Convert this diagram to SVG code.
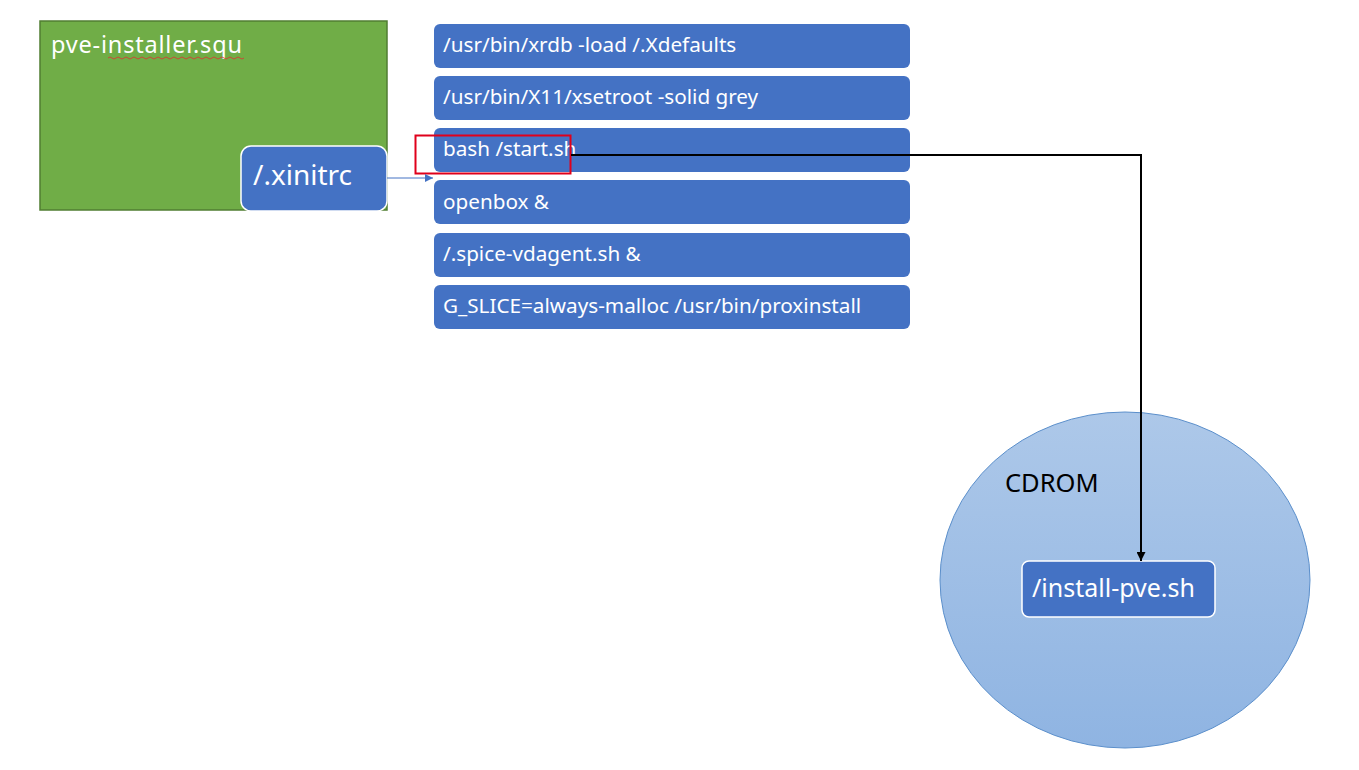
<svg xmlns="http://www.w3.org/2000/svg" width="1359" height="770" viewBox="0 0 1359 770">
<style>
.bar{fill:#4472c4;}
.bt{font-family:"Noto Sans","Liberation Sans",sans-serif;font-size:20.7px;fill:#ffffff;}
.wt{font-family:"Noto Sans","Liberation Sans",sans-serif;fill:#ffffff;}
</style>
<defs>
<linearGradient id="cd" x1="0" y1="0" x2="0" y2="1">
<stop offset="0" stop-color="#adc8e9"/>
<stop offset="1" stop-color="#8fb4e2"/>
</linearGradient>
<marker id="ab" viewBox="0 0 10 10" refX="10" refY="5" markerWidth="8" markerHeight="8" markerUnits="userSpaceOnUse" orient="auto">
<path d="M0,0 L10,5 L0,10 z" fill="#4472c4"/>
</marker>
<marker id="ak" viewBox="0 0 10 10" refX="10" refY="5" markerWidth="9" markerHeight="9" markerUnits="userSpaceOnUse" orient="auto">
<path d="M0,0 L10,5 L0,10 z" fill="#000000"/>
</marker>
</defs>
<rect width="1359" height="770" fill="#ffffff"/>
<g id="pve-installer">
<rect x="40" y="21" width="347" height="189" fill="#70ad47" stroke="#507e32" stroke-width="1.5"/>
<text class="wt" x="51" y="53" font-size="23.5" letter-spacing="0.8">pve-installer.squ</text>
<path d="M108,58 q2,-2 4,0 t4,0 t4,0 t4,0 t4,0 t4,0 t4,0 t4,0 t4,0 t4,0 t4,0 t4,0 t4,0 t4,0 t4,0 t4,0 t4,0 t4,0 t4,0 t4,0 t4,0 t4,0 t4,0 t4,0 t4,0 t4,0 t4,0 t4,0 t4,0 t4,0 t4,0 t4,0 t4,0 t4,0" fill="none" stroke="#e03030" stroke-width="0.8"/>
</g>
<g id="xinitrc">
<rect x="241" y="146" width="146" height="65" rx="10" fill="#4472c4" stroke="#ffffff" stroke-width="1.5"/>
<text class="wt" x="253" y="185" font-size="28">/.xinitrc</text>
</g>
<g id="bar1"><rect class="bar" x="434" y="24" width="476" height="44" rx="6"/><text class="bt" x="443" y="52">/usr/bin/xrdb -load /.Xdefaults</text></g>
<g id="bar2"><rect class="bar" x="434" y="76" width="476" height="44" rx="6"/><text class="bt" x="443" y="104">/usr/bin/X11/xsetroot -solid grey</text></g>
<g id="bar3"><rect class="bar" x="434" y="128" width="476" height="44" rx="6"/><text class="bt" x="443" y="156">bash /start.sh</text></g>
<g id="bar4"><rect class="bar" x="434" y="180" width="476" height="44" rx="6"/><text class="bt" x="443" y="209">openbox &amp;</text></g>
<g id="bar5"><rect class="bar" x="434" y="233" width="476" height="44" rx="6"/><text class="bt" x="443" y="261">/.spice-vdagent.sh &amp;</text></g>
<g id="bar6"><rect class="bar" x="434" y="285" width="476" height="44" rx="6"/><text class="bt" x="443" y="313">G_SLICE=always-malloc /usr/bin/proxinstall</text></g>
<g id="highlight">
<rect x="415.5" y="135.5" width="155" height="38" fill="none" stroke="#e0001b" stroke-width="2"/>
</g>
<g id="cdrom">
<ellipse cx="1125" cy="580" rx="185" ry="168" fill="url(#cd)" stroke="#5b8fcb" stroke-width="1"/>
<text x="1005" y="492" font-family="Noto Sans,Liberation Sans,sans-serif" font-size="25.5" fill="#000000">CDROM</text>
</g>
<g id="install-pve">
<rect x="1022" y="561" width="193" height="56" rx="7" fill="#4472c4" stroke="#ffffff" stroke-width="1.5"/>
<text class="wt" x="1032" y="597" font-size="25">/install-pve.sh</text>
</g>
<g id="connectors">
<line x1="387" y1="178" x2="433" y2="178" stroke="#4472c4" stroke-width="1" marker-end="url(#ab)"/>
<polyline points="571,155 1141,155 1141,561" fill="none" stroke="#000000" stroke-width="2" marker-end="url(#ak)"/>
</g>
</svg>
